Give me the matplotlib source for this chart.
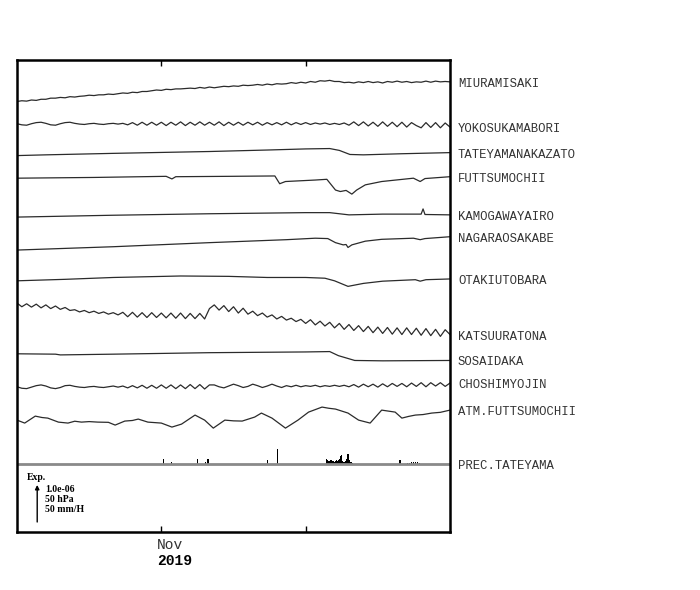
import numpy as np
import matplotlib.pyplot as plt

# ---------------------------------------------------
# DATA
# strain in 1e-8, pressure in hPa, rain in mm/h
# time = days since 2019-10-17 (Nov 1 = day 15)
# ---------------------------------------------------
START_DAY, END_DAY = 0, 45
tick_days = [15, 30]

# half-day samples over the whole period
miuramisaki = [0, 2, 1, 4, 3, 6, 6, 9,
               9, 11, 10, 13, 12, 14,
               15, 17, 16, 18, 18, 20, 19,
               21, 23, 22, 25, 24, 27, 27,
               29, 31, 30, 33, 32, 34, 34,
               35, 36, 35, 38, 36, 39, 37,
               39, 41, 40, 42, 41, 44, 43,
               44, 46, 44, 47, 45, 48, 47,
               48, 51, 49, 52, 50, 54, 52, 56, 55,
               57, 54, 54, 51, 52,
               50, 53, 51, 54, 51, 53, 50, 54, 52, 55, 52, 54, 51, 53, 52, 55,
               52, 55, 53, 54, 53]
yokosukamabori = [0, -3, -4, 0, 3, 4, 1, -3, -4, 0, 3, 4, 1,
                  -1, -2, 0, 1, -1, -2, 0, 1, -1, 1,
                  -3, 3, -4, 4, -4, 4, -4, 4, -5, 4, -4, 5, -5, 4, -4, 5, -4, 4,
                  -4, 5, -5, 4, -4, 4, -4, 4, -3, 4, -4, 3, -3, 3, -3, 4, -3, 3,
                  -2, 3,
                  -2, 2, -1, 2, -2, 1, -2, 2,
                  -4, 5, -5, 5, -6, 4, -7, 5, -7, 4, -8, 4, -9, 3, -5, -11, 3,
                  -10, 3, -11, 2, -9]
katsuuratona = [5, -5, 3, -6, 2, -8, 0, -10, -3, -12, -7, -15, -13,
                -19, -15, -21, -17, -23, -19, -25, -21, -27, -20,
                -32, -20, -33, -21, -34, -21, -34, -22, -35, -22, -36, -22, -37,
                -23, -37, -23, -38, -10,
                0, -14, -2, -18, -5, -22, -9, -25,
                -17, -29, -22, -33, -27, -38, -31, -41, -36, -45, -39, -50,
                -40, -54, -44, -57, -47, -62, -50, -66, -53, -69, -56, -72, -58,
                -75, -60, -77, -61, -79, -62, -80, -62, -80, -63, -82, -64, -83,
                -66, -85, -67, -80]
choshimyojin = [0, -4, -5, -1, 3, 5, 2, -3, -5, -2, 3, 4, 1,
                -1, -2, 0, 1, -1, -2, 0, 2, -1, 2,
                -3, 3, -3, 4, -4, 4, -4, 5, -4, 5, -5, 5, -5, 6, -5, 6, -6, 5,
                5, 0, -3, 2, 7, 3, -2, 1, 7, 3, -2, 2, 7, 2, -2, 3,
                0, 4, 0, 3, 1, 4, 0, 3, 1, 4, 1, 4,
                0, 6, -1, 7, 0, 7, -1, 8, 0, 9, 1, 9, 0, 10, 1, 11, 0, 11, 2,
                11, 1, 10]

# irregular samples
tateyama_t = [0, 3, 10, 16, 20, 26, 30, 32.5, 33.5, 34.6, 36, 40, 45]
tateyama = [0, 2, 6, 9, 11, 15, 18, 19, 14, 3, 2, 5, 8]

futtsu_t = [0, 8, 15.5, 16.1, 16.5, 22, 26.8, 27.3, 27.9, 31, 32.2, 33.1,
            33.6, 34.2, 34.8, 35.3, 36.2, 37.9, 41.2, 41.9, 42.4, 45]
futtsu = [0, 2, 5, -2, 4, 5, 6, -15, -9, -5, -3, -32,
          -36, -33, -43, -32, -18, -9, 0, -9, -1, 4]

kamogawa_t = [0, 10, 20, 30, 32.5, 34.5, 38, 42, 42.2, 42.4, 45]
kamogawa = [0, 5, 9, 12, 12, 6, 8, 8, 22, 7, 6]

nagara_t = [0, 10, 20, 28, 31, 32.3, 33.1, 33.9, 34.2, 34.4, 34.8, 36.2,
            37.9, 41.2, 41.9, 42.4, 45]
nagara = [0, 9, 20, 28, 32, 31, 20, 14, 15, 7, 14, 24,
          29, 32, 28, 31, 36]

otaki_t = [0, 5, 10, 17, 22, 26, 30, 32, 33, 34.4, 36, 38, 41.4, 41.9, 42.5, 45]
otaki = [0, 4, 9, 13, 12, 9, 9, 7, 0, -15, -7, -1, 3, -1, 3, 5]

sosaidaka_t = [0, 4, 4.5, 10, 20, 30, 32.5, 33.4, 35.1, 38, 45]
sosaidaka = [0, -1, -3, -1, 3, 5, 6, -5, -18, -19, -18]

atm_t = [0, 0.8, 1.9, 2.6, 3.2, 4.3, 5.3, 6.0, 6.7, 7.5, 8.4, 9.5, 10.2,
         11.2, 12.0, 12.6, 13.6, 15.0, 16.1, 17.1, 18.5, 19.5, 20.4, 21.6,
         22.5, 23.4, 24.7, 25.4, 26.5, 27.9, 29.2, 30.3, 31.7, 32.4, 33.1,
         34.4, 35.5, 36.7, 37.9, 39.3, 40.0, 40.7, 41.4, 42.2, 43.1, 44.0,
         45]
atm_hpa = [1015.0, 1011.0, 1020.4, 1018.5, 1017.7, 1012.3, 1011.0, 1013.5,
           1012.3, 1013.0, 1012.3, 1012.0, 1008.3, 1013.7, 1014.5, 1016.4,
           1012.3, 1011.0, 1005.6, 1009.6, 1021.8, 1015.0, 1004.2, 1015.0,
           1014.0, 1013.7, 1019.1, 1024.5, 1017.7, 1004.2, 1015.0, 1025.8,
           1032.6, 1031.0, 1029.9, 1024.5, 1015.0, 1011.0, 1028.5, 1025.8,
           1017.7, 1020.0, 1021.8, 1022.5, 1024.5, 1025.5, 1028.5]

prec_t = [15.25, 16.1, 18.8, 19.55, 19.85, 26.0, 27.1,
          32.2, 32.3, 32.4, 32.5, 32.6, 32.7, 32.8, 32.9, 33.0, 33.1, 33.2,
          33.3, 33.4, 33.5, 33.6, 33.7, 33.8, 33.9, 34.0, 34.1, 34.2, 34.3,
          34.4, 34.5, 34.6, 34.7, 34.8, 34.9,
          39.8, 40.6, 40.8, 41.0, 41.2, 41.4, 41.6, 41.8]
prec_mm = [6, 2, 7, 2, 7, 5, 20,
           7, 5, 4, 4, 5, 5, 4, 4, 3, 4, 5, 4, 5, 6, 11, 12, 4, 3, 3, 4, 3,
           6, 13, 5, 3, 2, 2, 1,
           5, 1, 1.5, 2, 2.5, 3, 2, 1]

# ---------------------------------------------------
# LAYOUT  (scale bar = 1e-6 = 50 hPa = 50 mm/H = 100 units)
# ---------------------------------------------------
half_day = np.linspace(START_DAY, END_DAY, len(miuramisaki))
strain_rows = [
    ("MIURAMISAKI", half_day, miuramisaki, 1162),
    ("YOKOSUKAMABORI", half_day, yokosukamabori, 1102),
    ("TATEYAMANAKAZATO", tateyama_t, tateyama, 1016),
    ("FUTTSUMOCHII", futtsu_t, futtsu, 955),
    ("KAMOGAWAYAIRO", kamogawa_t, kamogawa, 850),
    ("NAGARAOSAKABE", nagara_t, nagara, 761),
    ("OTAKIUTOBARA", otaki_t, otaki, 678),
    ("KATSUURATONA", half_day, katsuuratona, 613),
    ("SOSAIDAKA", sosaidaka_t, sosaidaka, 481),
    ("CHOSHIMYOJIN", half_day, choshimyojin, 392),
]
atm_offset, atm_ref = 302, 1015.0
prec_offset = 184
units_per_hpa = 2.0
units_per_mm = 2.0

line_color = "#2b2b2b"
label_font = dict(family="Liberation Mono", size=8.8, color="#333333")

fig = plt.figure(figsize=(7, 5.9), dpi=100)
ax = fig.add_axes([17 / 700, 58 / 590, 433 / 700, 472 / 590])


def put_label(name, y):
    ax.annotate(name, xy=(1.0, y), xycoords=("axes fraction", "data"),
                xytext=(8, -2), textcoords="offset pixels",
                va="center", ha="left", **label_font)


for name, t, vals, off in strain_rows:
    y = np.array(vals, dtype=float) + off
    ax.plot(t, y, color=line_color, lw=0.9, solid_joinstyle="round")
    put_label(name, y[-1])

atm_y = (np.array(atm_hpa) - atm_ref) * units_per_hpa + atm_offset
ax.plot(atm_t, atm_y, color=line_color, lw=0.9, solid_joinstyle="round")
put_label("ATM.FUTTSUMOCHII", atm_y[-1])

ax.axhline(prec_offset, color="#8a8a8a", lw=2)
ax.bar(prec_t, np.array(prec_mm) * units_per_mm, bottom=prec_offset,
       width=0.12, color="black")
put_label("PREC.TATEYAMA", prec_offset)

# scale bar
ax.annotate("", xy=(2.1, 127), xytext=(2.1, 27),
            arrowprops=dict(arrowstyle="-|>", color="black", lw=1,
                            mutation_scale=6, shrinkA=0, shrinkB=0))
scale_font = dict(family="Liberation Serif", weight="bold", size=7)
ax.text(1.0, 146, "Exp.", va="center", **scale_font)
ax.text(2.9, 116, "1.0e-06", va="center", **scale_font)
ax.text(2.9, 89, "50 hPa", va="center", **scale_font)
ax.text(2.9, 62, "50 mm/H", va="center", **scale_font)

ax.set_xlim(START_DAY, END_DAY)
ax.set_ylim(0, 1274)
ax.set_yticks([])
ax.set_xticks(tick_days)
ax.set_xticklabels([])
ax.tick_params(axis="x", direction="in", top=True, length=4, width=1)
for s in ax.spines.values():
    s.set_linewidth(1.8)

ax.annotate("Nov", xy=(tick_days[0], 0), xycoords=("data", "axes fraction"),
            xytext=(-4, -13), textcoords="offset pixels", ha="left",
            va="center", family="Liberation Mono", size=10.5, color="#333333")
ax.annotate("2019", xy=(tick_days[0], 0), xycoords=("data", "axes fraction"),
            xytext=(-4, -29), textcoords="offset pixels", ha="left",
            va="center", family="Liberation Mono", weight="bold", size=10.5)

fig.savefig("out.png", dpi=100)
